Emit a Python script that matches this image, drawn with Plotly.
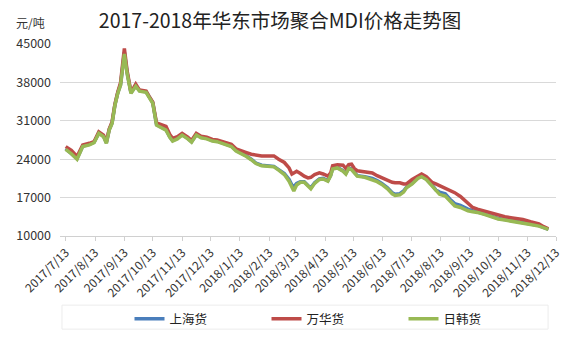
import plotly.graph_objects as go

dates = ["2017-07-13","2017-07-19","2017-07-25","2017-07-31","2017-08-07","2017-08-12","2017-08-17","2017-08-22",
"2017-08-25","2017-08-28","2017-08-31","2017-09-03","2017-09-06","2017-09-09","2017-09-13","2017-09-16",
"2017-09-20","2017-09-25","2017-09-29","2017-10-06","2017-10-09","2017-10-13","2017-10-17","2017-10-22",
"2017-10-27","2017-10-31","2017-11-03","2017-11-08","2017-11-13","2017-11-19","2017-11-23","2017-11-28",
"2017-12-03","2017-12-09","2017-12-15","2017-12-20","2017-12-28","2018-01-04","2018-01-09","2018-01-15",
"2018-01-20","2018-01-25","2018-01-30","2018-02-05","2018-02-13","2018-02-18","2018-02-23","2018-03-01",
"2018-03-06","2018-03-09","2018-03-11","2018-03-14","2018-03-18","2018-03-22","2018-03-26","2018-03-29",
"2018-04-02","2018-04-07","2018-04-11","2018-04-16","2018-04-19","2018-04-21","2018-04-26","2018-05-02",
"2018-05-05","2018-05-08","2018-05-11","2018-05-14","2018-05-17","2018-05-25","2018-06-02","2018-06-07",
"2018-06-12","2018-06-18","2018-06-23","2018-06-26","2018-07-01","2018-07-05","2018-07-08","2018-07-14",
"2018-07-20","2018-07-24","2018-07-29","2018-08-04","2018-08-08","2018-08-12","2018-08-18","2018-08-23",
"2018-08-28","2018-09-03","2018-09-08","2018-09-11","2018-09-16","2018-09-21","2018-09-29","2018-10-04",
"2018-10-13","2018-10-20","2018-10-28","2018-11-08","2018-11-16","2018-11-25","2018-11-30","2018-12-05"]

wanhua = [26300,25600,24500,26600,26900,27200,29000,28400,27200,29500,30800,34000,36200,38000,44200,40000,
36200,37700,36600,36400,35500,34400,30600,30300,30000,28500,27800,28100,28700,28000,27400,28700,
28200,28000,27600,27500,27000,26700,25900,25600,25200,24900,24700,24600,24600,24600,24000,23400,
22400,21300,21500,21800,21400,20900,20600,20700,21200,21500,21300,20900,21500,22800,23000,22900,
22300,23000,23100,22300,21900,21700,21500,21000,20600,20100,19800,19700,19700,19500,19500,20300,
21000,21300,20800,19800,19500,19200,18800,18300,17900,17200,16500,16100,15200,14900,14500,14200,
13700,13500,13300,13000,12600,12200,11700,11300]

rihan = [25800,25000,24000,26300,26600,27000,28700,28100,26900,29300,30500,33800,36000,37500,43200,39500,
36000,37300,36400,36200,35300,34200,30200,29800,29300,28000,27300,27700,28400,27700,27100,28400,
27900,27700,27300,27200,26700,26300,25500,25000,24500,23900,23200,22800,22700,22600,22000,21200,
20000,18800,18200,19300,19800,19800,19000,18600,19600,20300,20400,20000,21000,22200,22400,21800,
21300,22300,22100,21400,20900,20700,20300,19900,19400,18600,17700,17400,17500,18000,18800,19500,
20500,20800,20300,19100,18200,17600,17300,16300,15500,15200,14800,14600,14400,14300,13900,13600,
13100,12900,12700,12400,12100,11800,11500,11200]

shanghai = [25900,25100,24100,26400,26700,27100,28800,28200,27000,29400,30600,33900,36100,37600,43500,39700,
36100,37400,36500,36300,35400,34300,30300,29900,29400,28100,27400,27800,28500,27800,27200,28500,
28000,27800,27400,27300,26800,26400,25600,25100,24600,24000,23300,22900,22800,22700,22100,21400,
20300,19300,19000,19600,19900,19900,19200,18800,19700,20400,20500,20100,21100,22300,22500,21900,
21400,22400,22200,21500,21000,20800,20500,20100,19600,18800,17900,17600,17700,18200,18900,19600,
20600,20900,20400,19300,18400,18000,17700,16700,15900,15600,15100,14900,14600,14400,14000,13700,
13200,13000,12800,12500,12200,11900,11600,11200]

tick_vals = ["2017-07-13","2017-08-13","2017-09-13","2017-10-13","2017-11-13","2017-12-13","2018-01-13",
"2018-02-13","2018-03-13","2018-04-13","2018-05-13","2018-06-13","2018-07-13","2018-08-13","2018-09-13",
"2018-10-13","2018-11-13","2018-12-13"]
tick_text = ["2017/7/13","2017/8/13","2017/9/13","2017/10/13","2017/11/13","2017/12/13","2018/1/13",
"2018/2/13","2018/3/13","2018/4/13","2018/5/13","2018/6/13","2018/7/13","2018/8/13","2018/9/13",
"2018/10/13","2018/11/13","2018/12/13"]
y_ticks = [10000,17000,24000,31000,38000,45000]

FONT = "Noto Sans CJK SC, Microsoft YaHei, sans-serif"

fig = go.Figure()
fig.add_trace(go.Scatter(x=dates, y=shanghai, name="上海货", mode="lines",
                         line=dict(color="#4A7EBB", width=3.5)))
fig.add_trace(go.Scatter(x=dates, y=wanhua, name="万华货", mode="lines",
                         line=dict(color="#BE4B48", width=3.5)))
fig.add_trace(go.Scatter(x=dates, y=rihan, name="日韩货", mode="lines",
                         line=dict(color="#98B954", width=3.5)))

fig.update_layout(
    width=568, height=340,
    margin=dict(l=60, r=12, t=44, b=104),
    paper_bgcolor="white", plot_bgcolor="white",
    font=dict(family=FONT, color="#333333", size=11),
    title=dict(text="2017-2018年华东市场聚合MDI价格走势图", x=280 / 568, xanchor="center",
               xref="container", y=1 - 21 / 340, yanchor="middle",
               font=dict(size=19.5, color="#222222", family=FONT)),
    showlegend=True,
    legend=dict(orientation="h", x=335 / 568, xanchor="center", xref="container",
                y=1 - 319 / 340, yanchor="middle", yref="container",
                entrywidth=92, itemwidth=30, bgcolor="rgba(0,0,0,0)",
                font=dict(size=12.5, color="#222222"), traceorder="normal"),
    shapes=[dict(type="rect", xref="paper", yref="paper", x0=0.004, x1=0.984,
                 y0=-0.36, y1=-0.485, line=dict(color="#ececec", width=1),
                 fillcolor="rgba(0,0,0,0)", layer="below")],
    annotations=[dict(text="元/吨", x=0, y=1.0, xref="paper", yref="paper",
                      xshift=-46, yshift=22, showarrow=False, xanchor="left", yanchor="middle",
                      font=dict(size=12, color="#333333"))],
)
fig.update_xaxes(range=["2017-07-07", "2018-12-13"], tickmode="array", tickvals=tick_vals,
                 ticktext=tick_text, tickangle=-45, showgrid=False, showline=True,
                 linecolor="#d0d0d0", ticks="outside", tickcolor="#d0d0d0", ticklen=4,
                 tickfont=dict(size=12, color="#333333"), automargin=False)
fig.update_yaxes(range=[10000, 45000], tickvals=y_ticks, tickformat="d", showgrid=True,
                 gridcolor="#d9d9d9", zeroline=False, tickfont=dict(size=12.5, color="#333333"),
                 ticks="", ticklabelstandoff=8, automargin=False)

fig.write_html("out.html")
